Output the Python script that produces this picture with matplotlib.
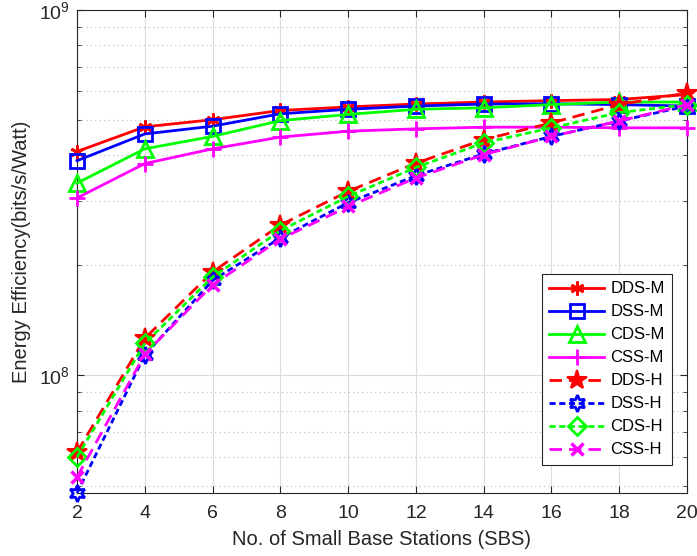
import matplotlib
matplotlib.use("Agg")
import matplotlib.pyplot as plt
from matplotlib.ticker import LogLocator, NullFormatter, FixedLocator

plt.rcParams['font.family'] = ['Liberation Sans', 'DejaVu Sans']
plt.rcParams['mathtext.fontset'] = 'custom'
plt.rcParams['mathtext.rm'] = 'Liberation Sans'

# Number of small base stations
sbs = [2, 4, 6, 8, 10, 12, 14, 16, 18, 20]

# Energy efficiency (bits/s/Watt)
dds_m = [4.10e8, 4.79e8, 5.01e8, 5.31e8, 5.43e8, 5.53e8, 5.60e8, 5.65e8, 5.69e8, 5.87e8]
dss_m = [3.87e8, 4.58e8, 4.81e8, 5.20e8, 5.35e8, 5.46e8, 5.53e8, 5.54e8, 5.51e8, 5.46e8]
cds_m = [3.36e8, 4.17e8, 4.51e8, 4.98e8, 5.18e8, 5.35e8, 5.40e8, 5.51e8, 5.60e8, 5.60e8]
css_m = [3.06e8, 3.80e8, 4.17e8, 4.49e8, 4.66e8, 4.73e8, 4.78e8, 4.78e8, 4.76e8, 4.76e8]
dds_h = [6.17e7, 1.264e8, 1.92e8, 2.58e8, 3.19e8, 3.81e8, 4.42e8, 4.91e8, 5.51e8, 5.93e8]
dss_h = [4.77e7, 1.137e8, 1.82e8, 2.38e8, 2.97e8, 3.52e8, 4.04e8, 4.51e8, 4.97e8, 5.46e8]
cds_h = [5.98e7, 1.224e8, 1.86e8, 2.49e8, 3.09e8, 3.71e8, 4.33e8, 4.76e8, 5.24e8, 5.51e8]
css_h = [5.27e7, 1.143e8, 1.77e8, 2.36e8, 2.90e8, 3.47e8, 4.02e8, 4.51e8, 4.97e8, 5.51e8]

labels = ['DDS-M', 'DSS-M', 'CDS-M', 'CSS-M', 'DDS-H', 'DSS-H', 'CDS-H', 'CSS-H']

RED, BLUE, GREEN, MAG = '#ff0000', '#0000ff', '#00ff00', '#ff00ff'
long_dash = (0, (4.5, 2.5))
short_dash = (0, (2.2, 1.3))

series = [
    (dds_m, dict(color=RED, ls='-', marker=(6, 2, 0), ms=10, mew=2)),
    (dss_m, dict(color=BLUE, ls='-', marker='s', ms=10, mfc='none', mew=2)),
    (cds_m, dict(color=GREEN, ls='-', marker='^', ms=11, mfc='none', mew=2)),
    (css_m, dict(color=MAG, ls='-', marker='+', ms=12, mew=2)),
    (dds_h, dict(color=RED, ls=long_dash, marker='*', ms=15, mew=1.5)),
    (dss_h, dict(color=BLUE, ls=short_dash, marker=(6, 1, 0), ms=12, mfc='none', mew=2)),
    (cds_h, dict(color=GREEN, ls=short_dash, marker='D', ms=9, mfc='none', mew=2)),
    (css_h, dict(color=MAG, ls=long_dash, marker='x', ms=9, mew=2.5)),
]

fig = plt.figure(figsize=(6.97, 5.56), dpi=100)
ax = fig.add_axes([77 / 697, 1 - 493 / 556, 610 / 697, 483 / 556])

for (vals, style), lab in zip(series, labels):
    ax.plot(sbs, vals, lw=2, label=lab, clip_on=False, zorder=3, **style)

ax.set_yscale('log')
ymin = min(min(s) for s, _ in series)
ax.set_ylim(ymin, 1e9)
ax.set_xlim(2, 20)
ax.xaxis.set_major_locator(FixedLocator(sbs))
ax.yaxis.set_major_locator(LogLocator(base=10, numticks=10))
ax.yaxis.set_minor_locator(LogLocator(base=10, subs=range(2, 10), numticks=20))
ax.yaxis.set_minor_formatter(NullFormatter())

dark = '#262626'
for sp in ax.spines.values():
    sp.set_color(dark)
    sp.set_linewidth(0.8)
ax.tick_params(which='both', direction='in', top=True, right=True, colors=dark,
               labelsize=14, labelcolor=dark)
ax.tick_params(which='major', length=5)
ax.tick_params(which='minor', length=3)
ax.tick_params(axis='x', which='major', pad=8.5)
ax.tick_params(axis='y', which='major', pad=5)

ax.grid(True, which='major', color='#dcdcdc', lw=0.8, ls='-')
ax.grid(True, which='minor', axis='y', color='#bdbdbd', lw=0.8, ls=(0, (1, 3)))
ax.set_axisbelow(True)

ax.set_xlabel('No. of Small Base Stations (SBS)', fontsize=14.5, color=dark, labelpad=6)
ax.set_ylabel('Energy Efficiency(bits/s/Watt)', fontsize=14.5, color=dark, labelpad=6)

leg = ax.legend(loc='lower right', bbox_to_anchor=(0.9757, 0.058), fontsize=12,
                handlelength=3.3, labelspacing=0.48, borderpad=0.45,
                handletextpad=0.35, fancybox=False, framealpha=1,
                edgecolor=dark, borderaxespad=0)
leg.get_frame().set_linewidth(0.8)
leg.set_zorder(5)

fig.savefig('out.png', dpi=100)
